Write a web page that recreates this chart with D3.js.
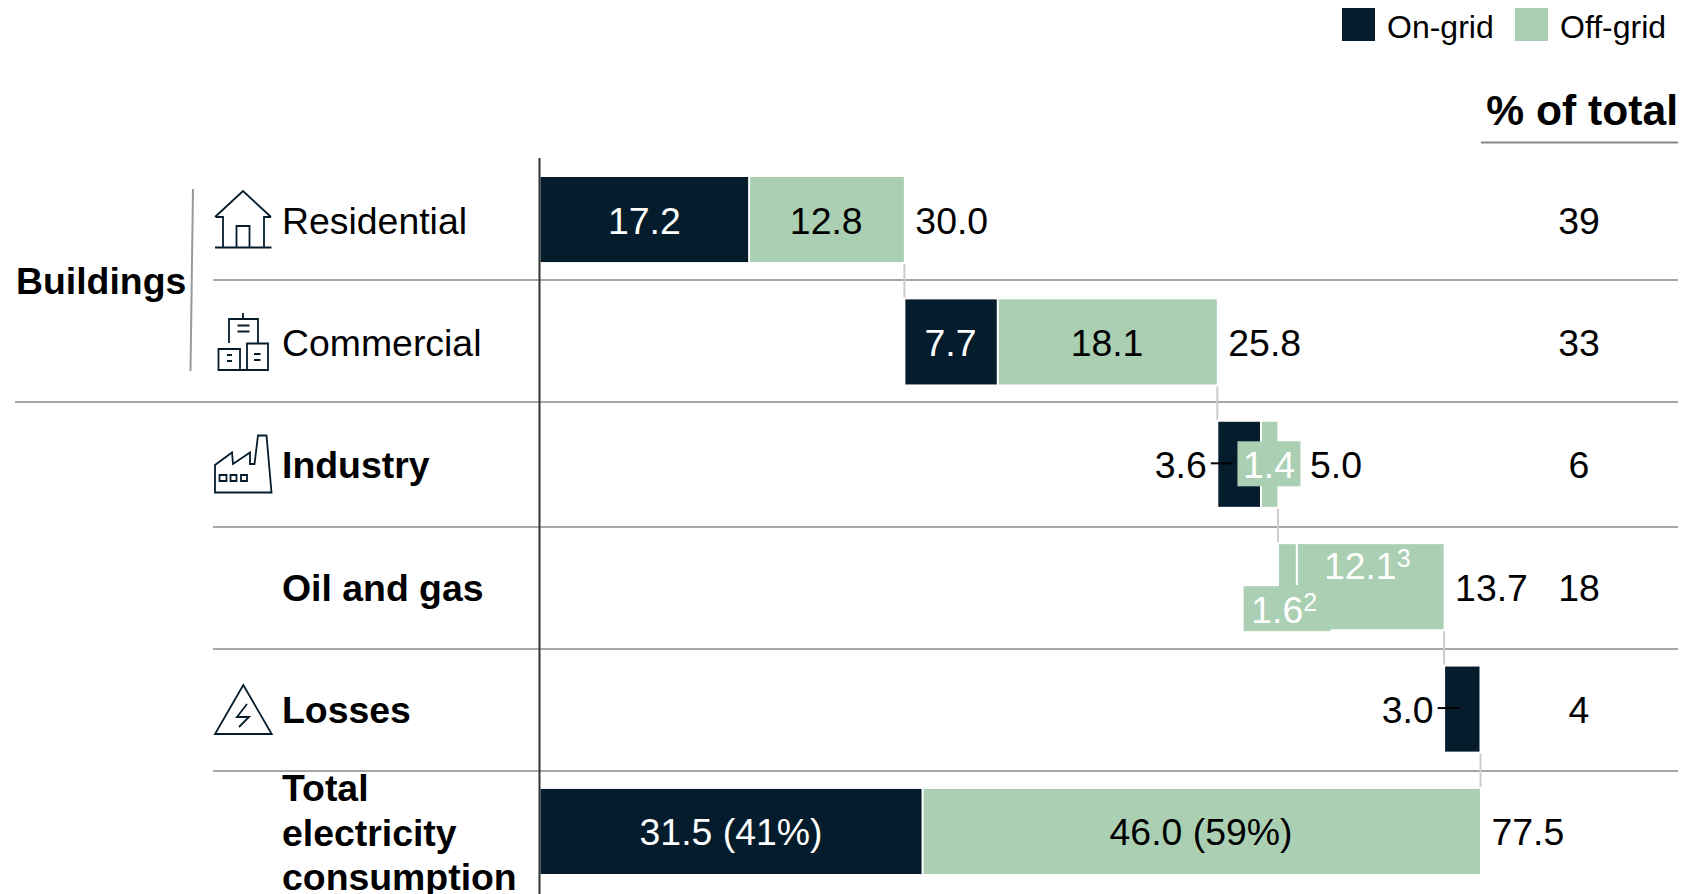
<!DOCTYPE html>
<html>
<head>
<meta charset="utf-8">
<script src="https://cdn.jsdelivr.net/npm/d3@7"></script>
<style>
  html, body { margin: 0; padding: 0; background: #fff; overflow: hidden; }
  svg { display: block; font-family: "Liberation Sans", Arial, sans-serif; }
</style>
</head>
<body>
<svg id="chart"></svg>
<script>
const categories = ["Residential", "Commercial", "Industry", "Oil and gas", "Losses", "Total"];
const onGrid = [17.2, 7.7, 3.6, 0, 3.0, 31.5];
const offGrid = [12.8, 18.1, 1.4, 13.7, 0, 46.0];
const rowTotals = ["30.0", "25.8", "5.0", "13.7", "3.0", "77.5"];
const pctOfTotal = ["39", "33", "6", "18", "4", ""];
const startsAt = [0, 30.0, 55.8, 60.8, 74.5, 0];
const oilSplit = [1.6, 12.1];
const totalLines = ["Total", "electricity", "consumption"];
const legendNames = ["On-grid", "Off-grid"];

const width = 1681;
const height = 894;
const dark = "#051c2c";
const green = "#aacfb3";
const FS = 37.4;
const BASE = 14; // baseline below row middle

const svg = d3.select("#chart").attr("width", width).attr("height", height);

const x = d3.scaleLinear().domain([0, 77.5]).range([540, 1480]);
// 122.4 px between rows, bars are 85 tall
const y = d3.scaleBand().domain(categories).range([177, 874]).paddingInner(0.305);
const mid = c => y(c) + y.bandwidth() / 2;

// separators
const seps = [[213, 280], [15, 402], [213, 527], [213, 649], [213, 771]];
svg.selectAll(".sep").data(seps).enter().append("line")
  .attr("x1", d => d[0]).attr("x2", 1678)
  .attr("y1", d => d[1]).attr("y2", d => d[1])
  .attr("stroke", "#a6a6a6").attr("stroke-width", 2);

// connectors between steps
categories.slice(0, 5).forEach((c, i) => {
  const end = startsAt[i] + onGrid[i] + offGrid[i];
  svg.append("line")
    .attr("x1", x(end) + 0.5).attr("x2", x(end) + 0.5)
    .attr("y1", y(c) + y.bandwidth() + 2)
    .attr("y2", y(categories[i + 1]) - 2)
    .attr("stroke", "#cccccc").attr("stroke-width", 2);
});

// on-grid bars
svg.selectAll(".on").data(categories).enter().append("rect")
  .attr("x", (d, i) => x(startsAt[i]) + (startsAt[i] === 0 ? 0.5 : 1.5))
  .attr("y", d => y(d))
  .attr("width", (d, i) => Math.max(0, x(onGrid[i]) - x(0) - (startsAt[i] === 0 ? 1 : 2)))
  .attr("height", y.bandwidth())
  .attr("fill", dark);

// off-grid bars
svg.selectAll(".off").data(categories).enter().append("rect")
  .attr("x", (d, i) => x(startsAt[i] + onGrid[i]) + 1.5)
  .attr("y", d => y(d))
  .attr("width", (d, i) => Math.max(0, x(offGrid[i]) - x(0) - 1.5))
  .attr("height", y.bandwidth())
  .attr("fill", green);

// oil and gas is split in two
const oilX = x(startsAt[3] + oilSplit[0]);
svg.append("line")
  .attr("x1", oilX).attr("x2", oilX)
  .attr("y1", y("Oil and gas")).attr("y2", y("Oil and gas") + 41)
  .attr("stroke", "#fff").attr("stroke-width", 2);

// vertical axis
svg.append("line")
  .attr("x1", 539.5).attr("x2", 539.5).attr("y1", 158).attr("y2", 894)
  .attr("stroke", "#333").attr("stroke-width", 2);

function label(tx, ty, str, opts) {
  const o = opts || {};
  return svg.append("text")
    .attr("x", tx).attr("y", ty)
    .attr("text-anchor", o.anchor || "start")
    .attr("fill", o.fill || "#000")
    .attr("font-weight", o.bold ? "bold" : "normal")
    .attr("font-size", o.size || FS)
    .text(str);
}

// labels for the row names
categories.slice(0, 5).forEach((c, i) => {
  label(282, mid(c) + BASE, c, { bold: i > 1 });
});
totalLines.forEach((t, i) => label(282, 801 + i * 44.6, t, { bold: true }));
label(16, 294, "Buildings", { bold: true });
svg.append("line")
  .attr("x1", 193).attr("x2", 190.5).attr("y1", 189).attr("y2", 371)
  .attr("stroke", "#999").attr("stroke-width", 2);

// values inside the bars
const inside = [
  [0, onGrid[0], "17.2", "#fff"],
  [1, onGrid[1], "7.7", "#fff"]
];
inside.forEach(d => {
  const c = categories[d[0]];
  label(x(startsAt[d[0]] + d[1] / 2), mid(c) + BASE, d[2], { anchor: "middle", fill: d[3] });
});
label(x(17.2 + 12.8 / 2), mid("Residential") + BASE, "12.8", { anchor: "middle" });
label(x(30 + 7.7 + 18.1 / 2), mid("Commercial") + BASE, "18.1", { anchor: "middle" });
label(x(31.5 / 2), mid("Total") + BASE, "31.5 (41%)", { anchor: "middle", fill: "#fff" });
label(x(31.5 + 46 / 2), mid("Total") + BASE, "46.0 (59%)", { anchor: "middle" });

// 1.4 sits on a green patch
const indMid = x(startsAt[2] + onGrid[2] + offGrid[2] / 2);
svg.append("rect")
  .attr("x", indMid - 31.5).attr("y", mid("Industry") - 23)
  .attr("width", 63).attr("height", 45).attr("fill", green);
label(indMid, mid("Industry") + BASE, "1.4", { anchor: "middle", fill: "#fff" });

// 1.6 patch under the split
const oilMid = x(startsAt[3] + oilSplit[0] / 2);
svg.append("rect")
  .attr("x", oilMid - 43.5).attr("y", y("Oil and gas") + 42)
  .attr("width", 87).attr("height", 45).attr("fill", green);

function supLabel(tx, ty, str, sup) {
  const t = label(tx, ty, str, { anchor: "middle", fill: "#fff" });
  t.append("tspan").attr("font-size", 25).attr("dy", -12).text(sup);
}
supLabel(oilMid - 3, y("Oil and gas") + 79, oilSplit[0].toFixed(1), "2");
supLabel(x(startsAt[3] + oilSplit[0] + oilSplit[1] / 2) - 3, y("Oil and gas") + 35, oilSplit[1].toFixed(1), "3");

// totals next to the bars, 5.0 has to clear the 1.4 patch
[0, 1, 2, 3, 5].forEach(i => {
  const c = categories[i];
  const end = x(startsAt[i] + onGrid[i] + offGrid[i]);
  label((i === 2 ? indMid + 31.5 : end) + (i === 2 ? 9.5 : 11.5), mid(c) + BASE, rowTotals[i]);
});

// 3.6 and 3.0 have a small leader
[2, 4].forEach(i => {
  const c = categories[i];
  const lx = x(startsAt[i]);
  label(lx - 10, mid(c) + BASE, onGrid[i].toFixed(1), { anchor: "end" });
  svg.append("line")
    .attr("x1", lx - 6).attr("x2", lx + 16)
    .attr("y1", mid(c) - 1).attr("y2", mid(c) - 1)
    .attr("stroke", "#000").attr("stroke-width", 2);
});

// % of total column
label(1678, 125, "% of total", { anchor: "end", bold: true, size: 42.6 });
svg.append("line")
  .attr("x1", 1481).attr("x2", 1678).attr("y1", 142.5).attr("y2", 142.5)
  .attr("stroke", "#888").attr("stroke-width", 2);
categories.forEach((c, i) => {
  if (pctOfTotal[i]) label(1579, mid(c) + BASE, pctOfTotal[i], { anchor: "middle" });
});

// legend
const legendX = [1342, 1515];
legendNames.forEach((n, i) => {
  svg.append("rect")
    .attr("x", legendX[i]).attr("y", 8).attr("width", 33).attr("height", 33)
    .attr("fill", i === 0 ? dark : green);
  label(legendX[i] + 45, 38, n, { size: 32 });
});

// icons, drawn by hand
const icons = [
  "M215 217 L243 191 L271 217 M216 217 L223 217 L223 247.5 M271 217 L264 217 L264 247.5 M215 247.5 H271.5 M236.5 247.5 V226 H249.5 V247.5",
  "M243 313 V319 M229 343 V319 H258 V343 M237.5 325.5 H249.5 M237.5 331.5 H249.5 M218.5 349 H240 V370 H218.5 Z M247 343.5 H268 V370 H247 Z M240 370 H247 M227 355 H232 M227 361 H232 M254 354 H260.5 M254 360 H260.5",
  "M215 492.5 V465 L232 452.5 L233 464 L250 452.5 V464 H254.5 L258 435.5 H266.5 L271.5 492.5 Z M219.5 475 H226.5 V481 H219.5 Z M230.5 475 H236.5 V481 H230.5 Z M241 475 H247 V481 H241 Z",
  "M243.3 685 L215 734 H271.7 Z M247 704 L237 717 H249 L239 727"
];
svg.selectAll(".icon").data(icons).enter().append("path")
  .attr("d", d => d)
  .attr("fill", "none")
  .attr("stroke", dark)
  .attr("stroke-width", 1.8);
</script>
</body>
</html>
